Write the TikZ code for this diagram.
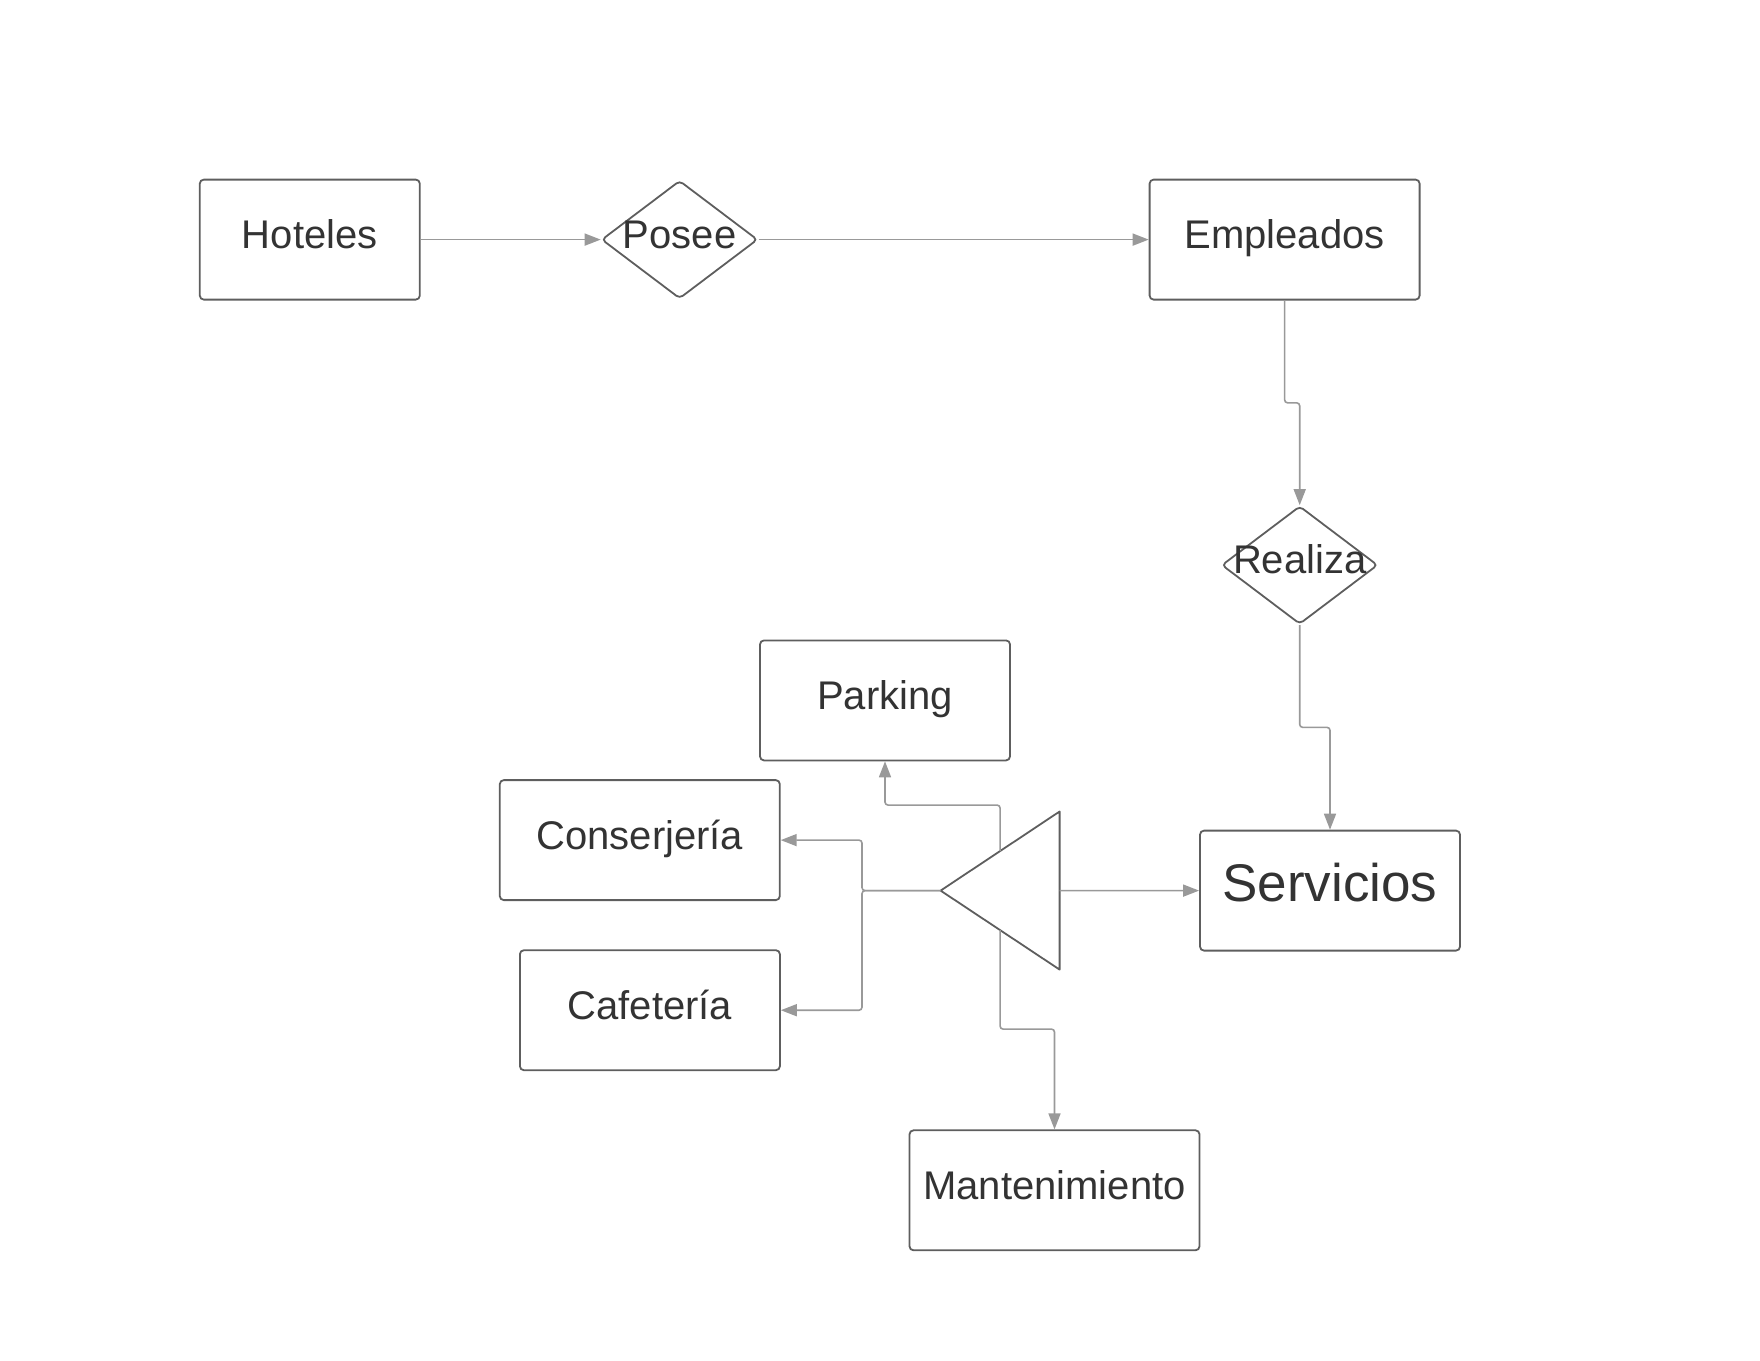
\documentclass[tikz,border=0pt]{standalone}
\usepackage{fontspec}
\setmainfont{Liberation Sans}
\usetikzlibrary{calc,shapes.geometric,arrows.meta}

\definecolor{boxgray}{RGB}{94,94,94}
\definecolor{linegray}{RGB}{153,153,153}
\definecolor{txtgray}{RGB}{51,51,51}

\tikzset{
	entity/.style={draw=boxgray, line width=0.9pt, rounded corners=2pt, text=txtgray,
		font=\fontsize{20}{24}\selectfont, text height=14.5pt, text depth=5.5pt,
		minimum height=60pt, inner sep=0pt},
	relation/.style={draw=boxgray, line width=0.9pt, diamond, rounded corners=2pt,
		minimum width=78pt, minimum height=59pt, inner sep=0pt},
	reltext/.style={text=txtgray, font=\fontsize{20}{24}\selectfont, inner sep=0pt},
	link/.style={draw=linegray, line width=0.8pt, rounded corners=1.5pt,
		-{Triangle[length=8pt,width=6pt]}},
}

\begin{document}
\begin{tikzpicture}[x=0.5pt, y=-0.5pt]
			\useasboundingbox (0,0) rectangle (1760,1360);

			\node[entity, minimum width=110pt] (H) at (309.8,239.6) {Hoteles};
			\node[relation] (P) at (679.6,239.6) {};
			\node[reltext] (Ptext) at ($(P) + (0,-5)$) {Posee};
			\node[entity, minimum width=135pt] (E) at (1284.6,239.6) {Empleados};

			\node[relation] (R) at (1299.7,565.1) {};
			\node[reltext] (Rtext) at ($(R) + (0,-6)$) {Realiza};
			\node[entity, minimum width=130pt, font=\fontsize{26.5}{30}\selectfont,
				text height=20pt, text depth=9.4pt] (S) at (1330,890.6) {Servicios};

			\node[entity, minimum width=125pt] (K) at (885,700.4) {Parking};
			\node[entity, minimum width=140pt] (C) at (639.8,840.1) {Conserjería};
			\node[entity, minimum width=130pt] (F) at (649.9,1010.2) {Cafetería};
			\node[entity, minimum width=145pt] (M) at (1054.5,1190.3) {Mantenimiento};

			% triangle
			\coordinate (tA) at (940.6,890.6);
			\coordinate (tT) at (1059.6,811.5);
			\coordinate (tB) at (1059.6,969.6);
			\draw[boxgray, line width=0.9pt, line join=round] (tA) -- (tT) -- (tB) -- cycle;
			\coordinate (tR) at ($(tT)!0.5!(tB)$);
			\coordinate (tU) at ($(tA)!0.5!(tT)$);
			\coordinate (tL) at ($(tA)!0.5!(tB)$);
			\coordinate (fork) at (862,890.6);

			\draw[link] (H.east) -- (P.west);
			\draw[link] (P.east) -- (E.west);
			\draw[link] (E.south) -- ($(E.south)!0.5!(E.south |- R.north)$) -| (R.north);
			\draw[link] (R.south) -- ($(R.south)!0.5!(R.south |- S.north)$) -| (S.north);
			\draw[link] (tR) -- (S.west);

			\draw[link] (tA) -- (fork) |- (C.east);
			\draw[link] (tA) -- (fork) |- (F.east);
			\draw[link] (tU) -- ++(0,-46) -| (K.south);
			\draw[link] (tL) -- ++(0,99) -| (M.north);
		\end{tikzpicture}
\end{document}
